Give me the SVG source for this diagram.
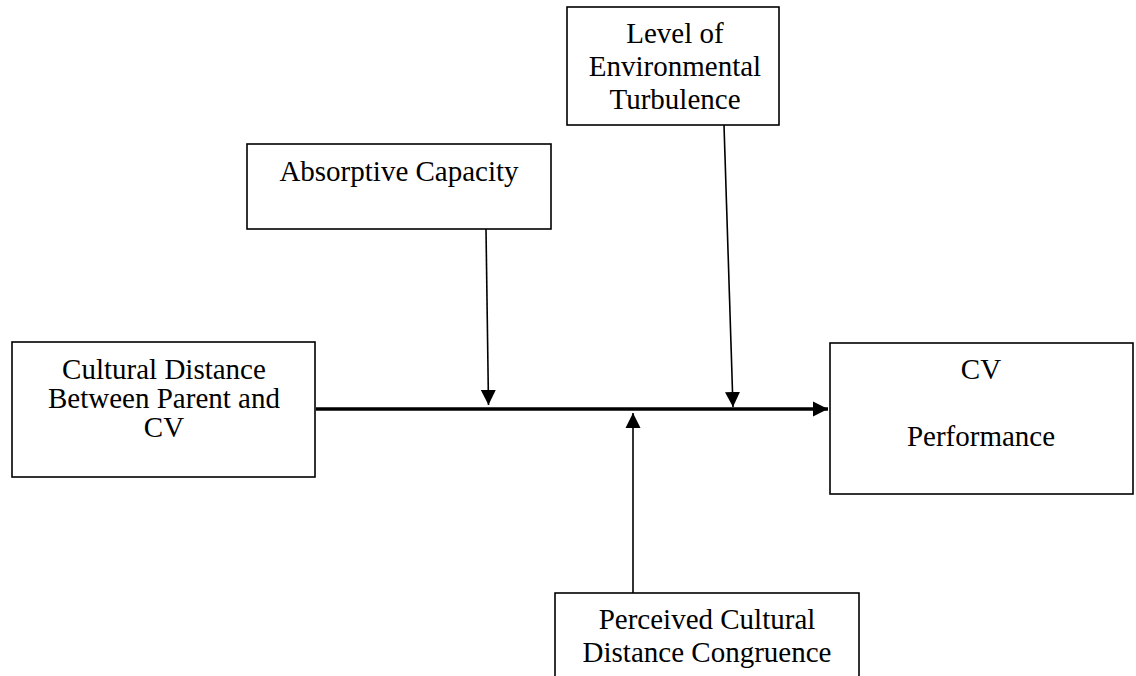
<svg xmlns="http://www.w3.org/2000/svg" width="1136" height="676" viewBox="0 0 1136 676">
<style>
.box{fill:#fff;stroke:#000;stroke-width:1.6}
.t{font-family:"Liberation Serif","Times New Roman",serif;font-size:29px;fill:#000;text-anchor:middle}
.thin{stroke:#000;stroke-width:1.6;fill:none}
.thick{stroke:#000;stroke-width:3.5;fill:none}
</style>
<defs>
<marker id="ah" markerUnits="userSpaceOnUse" markerWidth="16" markerHeight="16" viewBox="0 0 16 16" refX="15" refY="8" orient="auto">
<path d="M0,0.5 L15,8 L0,15.5 Z" fill="#000"/>
</marker>
</defs>
<rect width="1136" height="676" fill="#fff"/>
<g id="connectors">
<line class="thick" x1="316" y1="409" x2="828" y2="409" marker-end="url(#ah)"/>
<line class="thin" x1="486" y1="229" x2="488.5" y2="405" marker-end="url(#ah)"/>
<line class="thin" x1="724" y1="125" x2="733" y2="407" marker-end="url(#ah)"/>
<line class="thin" x1="633" y1="593" x2="633" y2="413" marker-end="url(#ah)"/>
</g>
<g id="level">
<rect class="box" x="567" y="7" width="212" height="118"/>
<text class="t" x="675" y="43">Level of</text>
<text class="t" x="675" y="76">Environmental</text>
<text class="t" x="675" y="109">Turbulence</text>
</g>
<g id="absorptive">
<rect class="box" x="247" y="144" width="304" height="85"/>
<text class="t" x="399" y="181">Absorptive Capacity</text>
</g>
<g id="cultural">
<rect class="box" x="12" y="342" width="303" height="135"/>
<text class="t" x="164" y="379">Cultural Distance</text>
<text class="t" x="164" y="408">Between Parent and</text>
<text class="t" x="164" y="437">CV</text>
</g>
<g id="performance">
<rect class="box" x="830" y="343" width="303" height="151"/>
<text class="t" x="981" y="379">CV</text>
<text class="t" x="981" y="446">Performance</text>
</g>
<g id="perceived">
<rect class="box" x="555" y="593" width="304" height="100"/>
<text class="t" x="707" y="629">Perceived Cultural</text>
<text class="t" x="707" y="662">Distance Congruence</text>
</g>
</svg>
